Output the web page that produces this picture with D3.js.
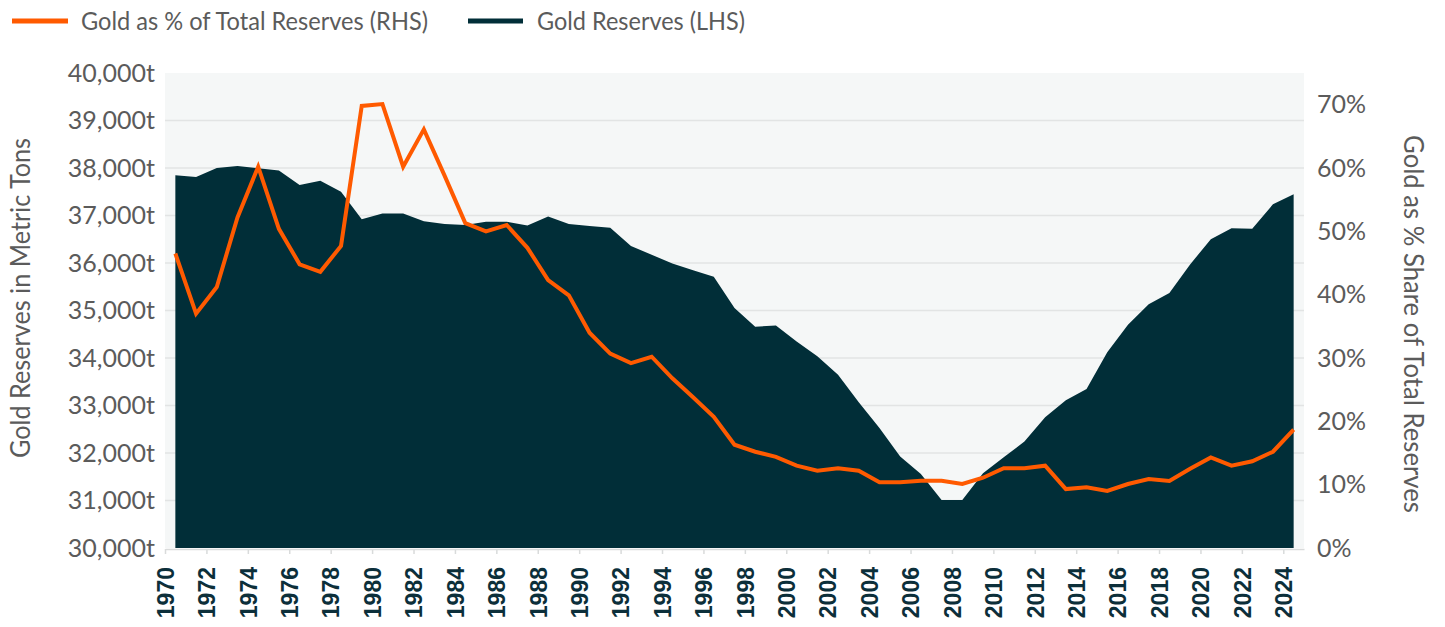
<!DOCTYPE html>
<html>
<head>
<meta charset="utf-8">
<script src="https://cdn.jsdelivr.net/npm/d3@7"></script>
<style>
  html, body { margin: 0; padding: 0; background: #ffffff; }
  svg { display: block; }
</style>
</head>
<body>
<svg id="chart" width="1445" height="627"></svg>
<script>
// ---------------- DATA ----------------
const years = [1970,1971,1972,1973,1974,1975,1976,1977,1978,1979,
  1980,1981,1982,1983,1984,1985,1986,1987,1988,1989,
  1990,1991,1992,1993,1994,1995,1996,1997,1998,1999,
  2000,2001,2002,2003,2004,2005,2006,2007,2008,2009,
  2010,2011,2012,2013,2014,2015,2016,2017,2018,2019,
  2020,2021,2022,2023,2024];

// Gold Reserves (LHS), metric tons
const goldTons = [37850,37810,38000,38040,37995,37950,37640,37730,37500,36920,
  37040,37040,36880,36820,36800,36870,36870,36790,36980,36820,
  36780,36740,36360,36175,35990,35850,35710,35055,34660,34685,
  34350,34035,33650,33070,32525,31925,31560,31010,31010,31575,
  31910,32240,32755,33110,33345,34120,34700,35130,35370,35970,
  36500,36730,36720,37235,37450];

// Gold as % of Total Reserves (RHS)
const goldPct = [46.5,37.0,41.2,52.2,60.2,50.4,44.8,43.6,47.7,69.8,
  70.1,60.2,66.1,58.8,51.3,50.0,51.0,47.4,42.3,39.9,
  34.0,30.7,29.2,30.2,26.8,23.8,20.7,16.3,15.2,14.4,
  13.0,12.2,12.6,12.2,10.4,10.4,10.6,10.6,10.1,11.1,
  12.6,12.6,13.0,9.3,9.6,9.0,10.1,10.9,10.6,12.5,
  14.3,13.0,13.7,15.2,18.7];

const leftTicks = [30000,31000,32000,33000,34000,35000,36000,37000,38000,39000,40000];
const rightTicks = [0,10,20,30,40,50,60,70];
const xTickYears = [1970,1972,1974,1976,1978,1980,1982,1984,1986,1988,1990,1992,1994,1996,
  1998,2000,2002,2004,2006,2008,2010,2012,2014,2016,2018,2020,2022,2024];

const seriesNames = ["Gold as % of Total Reserves (RHS)", "Gold Reserves (LHS)"];
const leftTitle = "Gold Reserves in Metric Tons";
const rightTitle = "Gold as % Share of Total Reserves";

// ---------------- STYLE ----------------
const ORANGE = "#ff5a00";
const TEAL = "#012e38";
const GRAY = "#5b5b5b";
const textFont = "'Liberation Sans Narrow', 'Lato', sans-serif";
const tickFont = "'Lato', 'Liberation Sans', sans-serif";

const plot = { left: 165, right: 1304, top: 73, bottom: 548 };

const svg = d3.select("#chart");

const x = d3.scaleLinear().domain([1970, 2025]).range([plot.left, plot.right]);
const yL = d3.scaleLinear().domain([30000, 40000]).range([plot.bottom, plot.top]);
const yR = d3.scaleLinear().domain([0, 75]).range([plot.bottom, plot.top]);

const rows = years.map((yr, i) => ({ year: yr, tons: goldTons[i], pct: goldPct[i] }));

// plot background
svg.append("rect")
  .attr("x", plot.left).attr("y", plot.top)
  .attr("width", plot.right - plot.left).attr("height", plot.bottom - plot.top)
  .attr("fill", "#f5f7f7");

// gridlines
svg.append("g").selectAll("line")
  .data(leftTicks.filter(t => t > 30000 && t < 40000))
  .join("line")
  .attr("x1", plot.left).attr("x2", plot.right)
  .attr("y1", d => yL(d)).attr("y2", d => yL(d))
  .attr("stroke", "#e2e4e4").attr("stroke-width", 1.5);

// area
const area = d3.area()
  .x(d => x(d.year + 0.5))
  .y0(yL(30000))
  .y1(d => yL(d.tons));
svg.append("path").datum(rows).attr("d", area).attr("fill", TEAL);

// line
const line = d3.line()
  .x(d => x(d.year + 0.5))
  .y(d => yR(d.pct));
svg.append("path").datum(rows).attr("d", line)
  .attr("fill", "none").attr("stroke", ORANGE).attr("stroke-width", 4)
  .attr("stroke-linejoin", "miter").attr("stroke-miterlimit", 3);

// bottom axis
const xAxis = d3.axisBottom(x)
  .tickValues(xTickYears)
  .tickFormat(d3.format("d"))
  .tickSize(5)
  .tickSizeOuter(0);
const gx = svg.append("g").attr("transform", `translate(0,${plot.bottom + 1})`).call(xAxis);
gx.select(".domain").attr("stroke", "#d9dbdb").attr("stroke-width", 1.5);
gx.selectAll(".tick line").attr("stroke", "#d9dbdb").attr("stroke-width", 1.5);
gx.selectAll(".tick text")
  .attr("transform", "rotate(-90)")
  .attr("x", -18).attr("y", 0).attr("dy", "0.36em")
  .style("text-anchor", "end")
  .style("font-family", "'Liberation Sans', Arial, sans-serif")
  .style("font-weight", "bold")
  .style("font-size", "23px")
  .attr("fill", "#0c2f3a");

// left axis
const gl = svg.append("g").attr("transform", `translate(${plot.left},0)`)
  .call(d3.axisLeft(yL).tickValues(leftTicks).tickFormat(d => d3.format(",")(d) + "t").tickSize(0).tickPadding(10));
gl.select(".domain").remove();
gl.selectAll(".tick text").style("font-family", tickFont).style("font-size", "25px").attr("fill", GRAY);

// right axis
const gr = svg.append("g").attr("transform", `translate(${plot.right},0)`)
  .call(d3.axisRight(yR).tickValues(rightTicks).tickFormat(d => d + "%").tickSize(0).tickPadding(13));
gr.select(".domain").remove();
gr.selectAll(".tick text").style("font-family", tickFont).style("font-size", "25px").attr("fill", GRAY);

// axis titles
svg.append("text")
  .attr("transform", "translate(21,298) rotate(-90)")
  .attr("text-anchor", "middle").attr("dy", "0.35em")
  .style("font-family", textFont).style("font-size", "26px").attr("fill", GRAY)
  .attr("textLength", 320).attr("lengthAdjust", "spacingAndGlyphs")
  .text(leftTitle);
svg.append("text")
  .attr("transform", "translate(1413,324) rotate(90)")
  .attr("text-anchor", "middle").attr("dy", "0.35em")
  .style("font-family", textFont).style("font-size", "26px").attr("fill", GRAY)
  .attr("textLength", 378).attr("lengthAdjust", "spacingAndGlyphs")
  .text(rightTitle);

// legend
const legendItems = [
  { name: seriesNames[0], color: ORANGE, x1: 12, x2: 68, tx: 81, tw: 347 },
  { name: seriesNames[1], color: TEAL, x1: 468, x2: 523, tx: 537, tw: 208 }
];
const lg = svg.append("g");
legendItems.forEach(it => {
  lg.append("line").attr("x1", it.x1).attr("x2", it.x2).attr("y1", 21).attr("y2", 21)
    .attr("stroke", it.color).attr("stroke-width", 5);
  lg.append("text").attr("x", it.tx).attr("y", 21).attr("dy", "0.35em")
    .style("font-family", textFont).style("font-size", "25px").attr("fill", GRAY)
    .attr("textLength", it.tw).attr("lengthAdjust", "spacingAndGlyphs")
    .text(it.name);
});
</script>
</body>
</html>
